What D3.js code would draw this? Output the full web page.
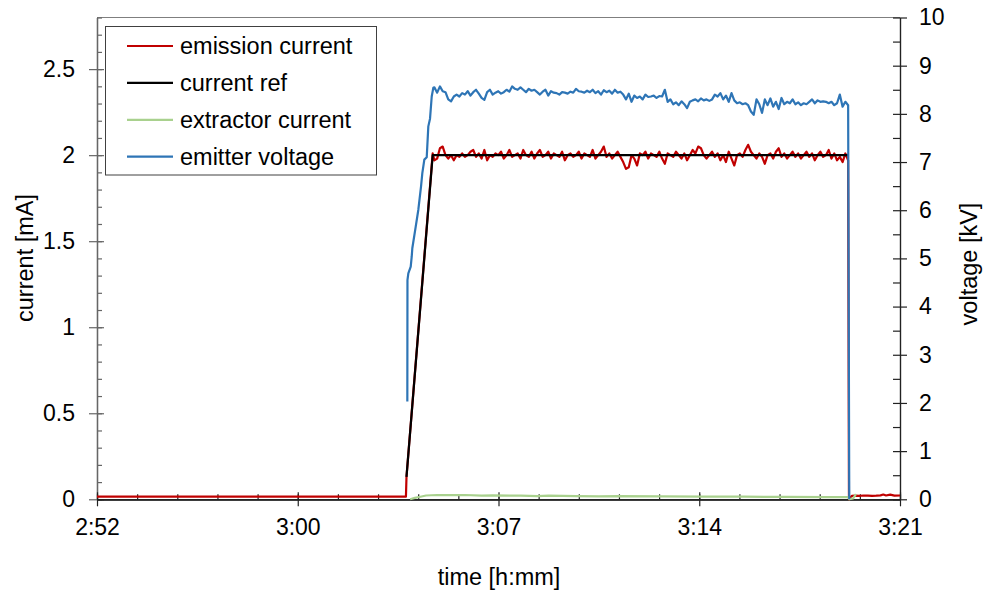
<!DOCTYPE html>
<html>
<head>
<meta charset="utf-8">
<script src="https://cdn.jsdelivr.net/npm/d3@7"></script>
<style>
  html, body { margin: 0; background: #fff; }
  svg { display: block; font-family: "Liberation Sans", Arial, sans-serif; }
</style>
</head>
<body>
<svg id="chart" width="983" height="593"></svg>
<script>
// ---- time axis (minutes after midnight) ----
const timeDomain = [172.8, 201.6];
const timeTicks = [172.8, 180, 187.2, 194.4, 201.6];
const timeTickLabels = ["2:52", "3:00", "3:07", "3:14", "3:21"];
const timeMinorStep = 1.44;

// ---- current axis [mA] ----
const currentDomain = [0, 2.8];
const currentTicks = [0, 0.5, 1, 1.5, 2, 2.5];
const currentTickLabels = ["0", "0.5", "1", "1.5", "2", "2.5"];
const currentMinorStep = 0.1;

// ---- voltage axis [kV] ----
const voltageDomain = [0, 10];
const voltageTicks = [0, 1, 2, 3, 4, 5, 6, 7, 8, 9, 10];
const voltageMinorStep = 0.5;

// ---- emission current [mA] ----
const emissionIdleTimes = [172.8, 183.88];
const emissionIdleValues = [0.015, 0.015];
const rampTimes = [183.90, 184.00, 184.10, 184.20, 184.30, 184.40, 184.50, 184.60, 184.70, 184.84];
const emissionRampValues = [0.13, 0.33, 0.53, 0.73, 0.93, 1.13, 1.33, 1.53, 1.73, 2.01];
const plateauStart = 184.90;
const plateauEnd = 199.74;
const emissionPlateau = [
  1.97, 1.98, 2.04, 2.05, 2.00, 1.98, 2.00, 1.97, 2.00, 1.99,
  2.01, 1.99, 2.00, 2.02, 2.03, 1.99, 2.01, 1.98, 2.03, 1.97,
  2.00, 1.99, 2.01, 2.00, 2.02, 1.98, 2.00, 2.03, 1.99, 2.00,
  2.01, 1.98, 2.03, 2.00, 1.99, 2.02, 1.98, 2.01, 2.03, 1.99,
  2.00, 2.02, 1.98, 2.01, 2.00, 1.99, 2.02, 1.97, 2.00, 2.01,
  1.99, 2.00, 2.02, 1.98, 2.01, 2.00, 1.99, 2.03, 1.98, 2.00,
  2.02, 2.05, 1.99, 2.01, 1.98, 2.00, 2.02, 1.99, 1.96, 1.92,
  1.93, 2.00, 1.98, 1.94, 2.01, 2.00, 2.02, 1.98, 2.01, 2.00,
  1.99, 2.02, 1.98, 1.95, 2.01, 2.00, 1.99, 2.02, 2.00, 1.98,
  2.01, 1.97, 2.00, 2.03, 2.01, 2.05, 2.04, 2.00, 1.98, 2.00,
  2.02, 1.99, 2.01, 1.97, 2.00, 1.96, 2.02, 1.98, 1.94, 2.00,
  2.01, 1.99, 2.03, 2.06, 2.02, 2.00, 1.98, 2.01, 1.99, 1.95,
  2.00, 2.01, 1.98, 2.02, 2.04, 1.99, 2.01, 1.98, 2.00, 2.02,
  1.99, 2.01, 1.98, 2.00, 2.02, 1.99, 2.01, 1.97, 2.00, 2.02,
  1.99, 2.00, 2.03, 1.98, 2.01, 1.97, 1.99, 1.96, 2.01, 1.97
];
const emissionOffTimes = [199.77, 199.87, 200.0, 200.15, 200.3, 200.45, 200.6, 200.75, 200.9, 201.0, 201.1, 201.25, 201.4, 201.6];
const emissionOffValues = [0.0, 0.020, 0.021, 0.020, 0.022, 0.021, 0.020, 0.021, 0.023, 0.028, 0.022, 0.027, 0.021, 0.022];

// ---- current reference [mA] ----
const refTimes = [183.90, 184.84, 199.74];
const refValues = [0.13, 2.0, 2.0];

// ---- extractor current [mA] ----
const extractorTimes = [184.03, 184.2, 184.4, 184.6, 185.0, 185.5, 186.0, 186.6, 187.0, 188.0, 188.6, 189.0, 190.0, 190.8, 191.5, 193.0, 194.5, 196.0, 197.5, 199.0, 199.74, 199.78, 199.92, 200.02];
const extractorValues = [0.0, 0.008, 0.015, 0.022, 0.025, 0.024, 0.025, 0.021, 0.023, 0.021, 0.018, 0.021, 0.019, 0.017, 0.019, 0.017, 0.016, 0.015, 0.014, 0.013, 0.013, 0.0, 0.005, 0.03];

// ---- emitter voltage [kV] ----
const voltageRampTimes = [183.930, 183.935, 183.966, 184.052, 184.088, 184.109, 184.231, 184.325, 184.421, 184.468, 184.540, 184.626, 184.683, 184.744, 184.805, 184.862];
const voltageRampValues = [2.03, 4.55, 4.69, 4.83, 5.04, 5.21, 5.66, 6.01, 6.49, 6.77, 7.05, 7.10, 7.74, 7.90, 8.36, 8.54];
const voltagePlateau = [
  8.55, 8.44, 8.57, 8.47,
  8.45, 8.30, 8.26,
  8.36, 8.40, 8.36, 8.43, 8.40, 8.47, 8.38, 8.45,
  8.50, 8.42, 8.33, 8.29, 8.45, 8.50, 8.40, 8.44, 8.47,
  8.42, 8.45, 8.50, 8.46, 8.57, 8.52, 8.50,
  8.55, 8.50, 8.45, 8.52, 8.48, 8.50, 8.45, 8.40, 8.46, 8.50, 8.38, 8.47, 8.44,
  8.43, 8.40, 8.45, 8.44, 8.42, 8.46, 8.44, 8.52, 8.47,
  8.46, 8.44, 8.48, 8.45, 8.50, 8.43, 8.47, 8.40, 8.49, 8.45, 8.48, 8.42, 8.50, 8.44, 8.46, 8.40,
  8.30, 8.42, 8.25, 8.38, 8.33, 8.36, 8.30, 8.40, 8.35, 8.36, 8.38, 8.33, 8.37, 8.36,
  8.50, 8.25, 8.30, 8.20, 8.24, 8.18, 8.26, 8.20, 8.12,
  8.25, 8.28, 8.30, 8.26, 8.32, 8.28, 8.30, 8.27, 8.30,
  8.40, 8.36, 8.43, 8.30, 8.38, 8.25, 8.43, 8.28, 8.22, 8.24, 8.20, 8.22, 8.18, 8.05, 7.98, 8.30,
  8.20, 8.02, 8.30, 8.18, 8.32, 8.15, 8.25, 8.10, 8.33, 8.20, 8.25, 8.22, 8.30, 8.20,
  8.24, 8.18, 8.22, 8.20, 8.25, 8.30, 8.22, 8.28, 8.25, 8.26, 8.25, 8.22, 8.25, 8.18, 8.22, 8.40, 8.15, 8.25, 8.18
];
const voltageOffTimes = [199.78];
const voltageOffValues = [0.0];

// ---- legend ----
const legendLabels = ["emission current", "current ref", "extractor current", "emitter voltage"];
const seriesColors = ["#c00000", "#000000", "#a9d18e", "#2e75b6"];

// ---------------------------------------------------------------
const svg = d3.select("#chart");
const plot = { left: 97, right: 900, top: 17.5, bottom: 499.3 };
const FONT = 23.5;
const TICK_FONT = 23;

const x = d3.scaleLinear().domain(timeDomain).range([plot.left, plot.right]);
const yI = d3.scaleLinear().domain(currentDomain).range([plot.bottom, plot.top]);
const yV = d3.scaleLinear().domain(voltageDomain).range([plot.bottom, plot.top]);

const zip = (ts, vs) => ts.map((t, i) => [t, vs[i]]);
const spread = (vals, t0, t1) => vals.map((v, i) => [t0 + i * (t1 - t0) / (vals.length - 1), v]);

const emissionData = [].concat(
  zip(emissionIdleTimes, emissionIdleValues),
  zip(rampTimes, emissionRampValues),
  spread(emissionPlateau, plateauStart, plateauEnd),
  zip(emissionOffTimes, emissionOffValues)
);
const refData = zip(refTimes, refValues);
const extractorData = zip(extractorTimes, extractorValues);
const voltageData = [].concat(
  zip(voltageRampTimes, voltageRampValues),
  spread(voltagePlateau, plateauStart, plateauEnd),
  zip(voltageOffTimes, voltageOffValues)
);

// minor tick positions
const range = (a, b, s) => d3.range(Math.round((b - a) / s) + 1).map(i => a + i * s);
const timeMinor = range(timeDomain[0], timeDomain[1], timeMinorStep);
const currentMinor = range(0, currentDomain[1], currentMinorStep);
const voltageMinor = range(0, voltageDomain[1], voltageMinorStep);

// plot background and top border
svg.append("rect").attr("x", plot.left).attr("y", plot.top)
  .attr("width", plot.right - plot.left).attr("height", plot.bottom - plot.top).attr("fill", "#fff");
svg.append("line").attr("x1", plot.left).attr("x2", plot.right)
  .attr("y1", plot.top).attr("y2", plot.top).attr("stroke", "#7f7f7f").attr("stroke-width", 1);

function styleAxis(g, color) {
  g.selectAll("path.domain").attr("stroke", color).attr("stroke-width", 1.2);
  g.selectAll(".tick line").attr("stroke", color).attr("stroke-width", 1.2);
  g.selectAll("text").attr("fill", "#000").attr("font-size", TICK_FONT)
    .attr("font-family", "'Liberation Sans', Arial, sans-serif");
}

// left axis (current)
const gL = svg.append("g").attr("transform", `translate(${plot.left},0)`);
gL.append("g").call(d3.axisRight(yI).tickValues(currentMinor).tickSize(5).tickSizeOuter(0).tickFormat(""))
  .call(g => styleAxis(g, "#666"));
gL.append("g").call(d3.axisRight(yI).tickValues(currentTicks).tickSize(7).tickSizeOuter(0).tickFormat(""))
  .call(g => styleAxis(g, "#666"));
gL.append("g").call(d3.axisLeft(yI).tickValues(currentTicks).tickSize(8).tickSizeOuter(0).tickPadding(14)
  .tickFormat((d, i) => currentTickLabels[i]))
  .call(g => styleAxis(g, "#666"));

// right axis (voltage)
const gR = svg.append("g").attr("transform", `translate(${plot.right},0)`);
gR.append("g").call(d3.axisLeft(yV).tickValues(voltageMinor).tickSize(7).tickSizeOuter(0).tickFormat(""))
  .call(g => styleAxis(g, "#222"));
gR.append("g").call(d3.axisRight(yV).tickValues(voltageTicks).tickSize(7).tickSizeOuter(0).tickPadding(12)
  .tickFormat(d3.format("d")))
  .call(g => styleAxis(g, "#222"));

// bottom axis (time)
const gB = svg.append("g").attr("transform", `translate(0,${plot.bottom})`);
gB.append("g").call(d3.axisTop(x).tickValues(timeMinor).tickSize(5).tickSizeOuter(0).tickFormat(""))
  .call(g => styleAxis(g, "#222"));
gB.append("g").call(d3.axisTop(x).tickValues(timeTicks).tickSize(7).tickSizeOuter(0).tickFormat(""))
  .call(g => styleAxis(g, "#222"));
gB.append("g").call(d3.axisBottom(x).tickValues(timeTicks).tickSize(7).tickSizeOuter(0).tickPadding(12)
  .tickFormat((d, i) => timeTickLabels[i]))
  .call(g => styleAxis(g, "#222"));

// series
const lineI = d3.line().x(d => x(d[0])).y(d => yI(d[1]));
const lineV = d3.line().x(d => x(d[0])).y(d => yV(d[1]));
const series = [
  { data: emissionData, line: lineI, color: seriesColors[0] },
  { data: refData, line: lineI, color: seriesColors[1] },
  { data: extractorData, line: lineI, color: seriesColors[2] },
  { data: voltageData, line: lineV, color: seriesColors[3] }
];
series.forEach(s => {
  svg.append("path").datum(s.data).attr("d", s.line)
    .attr("fill", "none").attr("stroke", s.color).attr("stroke-width", 2.2)
    .attr("stroke-linejoin", "round");
});

// axis titles
svg.append("text").attr("transform", "translate(33,258) rotate(-90)")
  .attr("text-anchor", "middle").attr("font-size", FONT).text("current [mA]");
svg.append("text").attr("transform", "translate(977,264) rotate(-90)")
  .attr("text-anchor", "middle").attr("font-size", FONT).text("voltage [kV]");
svg.append("text").attr("x", 499).attr("y", 585)
  .attr("text-anchor", "middle").attr("font-size", FONT).text("time [h:mm]");

// legend
const lg = svg.append("g");
lg.append("rect").attr("x", 105.5).attr("y", 26.5).attr("width", 271).attr("height", 148.5)
  .attr("fill", "#fff").attr("stroke", "#404040").attr("stroke-width", 1);
legendLabels.forEach((lab, i) => {
  const cy = 46 + i * 36.9;
  lg.append("line").attr("x1", 127).attr("x2", 173).attr("y1", cy).attr("y2", cy)
    .attr("stroke", seriesColors[i]).attr("stroke-width", 2.2);
  lg.append("text").attr("x", 180).attr("y", cy).attr("dy", "0.35em")
    .attr("font-size", FONT).text(lab);
});
</script>
</body>
</html>
